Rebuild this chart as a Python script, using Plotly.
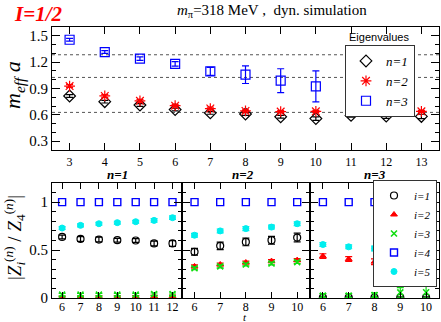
import plotly.graph_objects as go

# ---------------- data: top panel (effective masses) ----------------
t_top = [3, 4, 5, 6, 7, 8, 9, 10, 11, 12, 13]
n1_val = [0.815, 0.750, 0.712, 0.660, 0.622, 0.610, 0.578, 0.558, 0.594, 0.585, 0.582]
n1_err = [0.015, 0.015, 0.015, 0.015, 0.015, 0.015, 0.015, 0.020, 0.020, 0.025, 0.025]
n2_val = [0.928, 0.815, 0.760, 0.705, 0.672, 0.645, 0.637, 0.640, 0.645, 0.640, 0.640]
n2_err = [0.015, 0.015, 0.015, 0.015, 0.015, 0.012, 0.012, 0.012, 0.012, 0.012, 0.012]
t_n3 = [3, 4, 5, 6, 7, 8, 9, 10]
n3_val = [1.455, 1.315, 1.240, 1.180, 1.095, 1.057, 0.989, 0.924]
n3_err = [0.015, 0.015, 0.020, 0.025, 0.045, 0.100, 0.136, 0.176]
thresholds = [1.284, 1.026, 0.628]

# ---------------- data: bottom panels (overlap ratios) ----------------
t_p1 = [6, 7, 8, 9, 10, 11, 12]
p1_i1 = [0.637, 0.616, 0.610, 0.603, 0.600, 0.569, 0.569]
p1_i1_err = [0.020, 0.025, 0.025, 0.020, 0.020, 0.025, 0.030]
p1_i2 = [0.008, 0.010, 0.012, 0.012, 0.015, 0.018, 0.020]
p1_i2_err = [0.010, 0.010, 0.010, 0.010, 0.010, 0.010, 0.010]
p1_i3 = [0.035, 0.035, 0.035, 0.035, 0.035, 0.040, 0.040]
p1_i3_err = [0.012, 0.012, 0.012, 0.012, 0.012, 0.012, 0.012]
p1_i4 = [1, 1, 1, 1, 1, 1, 1]
p1_i5 = [0.730, 0.758, 0.775, 0.786, 0.796, 0.810, 0.838]
p1_i5_err = [0.015, 0.015, 0.015, 0.015, 0.015, 0.018, 0.018]

t_p23 = [6, 7, 8, 9, 10]
p2_i1 = [0.482, 0.544, 0.585, 0.603, 0.631]
p2_i1_err = [0.035, 0.040, 0.040, 0.040, 0.045]
p2_i2 = [0.330, 0.350, 0.370, 0.385, 0.395]
p2_i2_err = [0.015, 0.015, 0.015, 0.015, 0.015]
p2_i3 = [0.310, 0.330, 0.350, 0.360, 0.375]
p2_i3_err = [0.015, 0.015, 0.015, 0.015, 0.015]
p2_i4 = [1, 1, 1, 1, 1]
p2_i5 = [0.655, 0.700, 0.724, 0.740, 0.775]
p2_i5_err = [0.020, 0.020, 0.020, 0.020, 0.020]

p3_i1 = [0.004, 0.004, 0.004, 0.004, 0.004]
p3_i1_err = [0.008, 0.008, 0.008, 0.008, 0.008]
p3_i2 = [0.437, 0.406, 0.379, 0.355, 0.334]
p3_i2_err = [0.025, 0.025, 0.030, 0.057, 0.110]
p3_i3 = [0.025, 0.025, 0.030, 0.058, 0.060]
p3_i3_err = [0.020, 0.020, 0.025, 0.050, 0.060]
p3_i4 = [1, 1, 1, 1, 1]
p3_i5 = [0.558, 0.534, 0.517, 0.489, 0.489]
p3_i5_err = [0.020, 0.020, 0.025, 0.030, 0.030]

top_xticks = [3, 4, 5, 6, 7, 8, 9, 10, 11, 12, 13]
top_yticks = [0.3, 0.6, 0.9, 1.2, 1.5]
top_yticktext = ["0.3", "0.6", "0.9", "1.2", "1.5"]
bot_yticks = [0, 0.5, 1]
bot_yticktext = ["0", "0.5", "1"]

# ---------------- styling ----------------
SERIF = "Liberation Serif"
BLACK, RED, BLUE = "#000000", "#ff0000", "#0000ff"
GREEN, CYAN = "#11dd11", "#00eeee"

W, H = 441, 322
# plot area in window pixels: x 52..439, y 27..298
L, T = 52, 27
R = W - 439
B = H - 298
PW, PH = W - L - R, H - T - B


def px(xw):
    return (xw - L) / PW


def py(yw):
    return (H - B - yw) / PH


fig = go.Figure()


def add(x, y, err, color, symbol, size, name, xa, ya, legend=None, show=False, lw=1.2):
    fig.add_trace(go.Scatter(
        x=x, y=y, mode="markers", name=name,
        xaxis=xa, yaxis=ya, showlegend=show, legend=legend,
        marker=dict(symbol=symbol, size=size, color=color,
                    line=dict(color=color, width=lw)),
        error_y=None if err is None else dict(type="data", array=err, color=color,
                                              thickness=1.2, width=3.5),
    ))


# top panel
add(t_top, n1_val, n1_err, BLACK, "diamond-open", 9, "<i>n=1</i>", "x", "y", "legend", True)
add(t_top, n2_val, n2_err, RED, "asterisk-open", 9, "<i>n=2</i>", "x", "y", "legend", True)
add(t_n3, n3_val, n3_err, BLUE, "square-open", 9, "<i>n=3</i>", "x", "y", "legend", True)

# bottom panels
panels = [
    ("x2", "y2", t_p1, [(p1_i1, p1_i1_err), (p1_i2, p1_i2_err), (p1_i3, p1_i3_err), (p1_i4, None), (p1_i5, p1_i5_err)]),
    ("x3", "y3", t_p23, [(p2_i1, p2_i1_err), (p2_i2, p2_i2_err), (p2_i3, p2_i3_err), (p2_i4, None), (p2_i5, p2_i5_err)]),
    ("x4", "y4", t_p23, [(p3_i1, p3_i1_err), (p3_i2, p3_i2_err), (p3_i3, p3_i3_err), (p3_i4, None), (p3_i5, p3_i5_err)]),
]
styles = [
    (BLACK, "circle-open", 7, "<i>i=1</i>", 1.2),
    (RED, "triangle-up", 6, "<i>i=2</i>", 1.0),
    (GREEN, "x-thin", 6, "<i>i=3</i>", 1.6),
    (BLUE, "square-open", 7, "<i>i=4</i>", 1.4),
    (CYAN, "circle", 6, "<i>i=5</i>", 1.0),
]
for k, (xa, ya, tt, series) in enumerate(panels):
    for (vals, err), (col, sym, sz, nm, lw) in zip(series, styles):
        add(tt, vals, err, col, sym, sz, nm, xa, ya, "legend2", k == 2, lw)

# dotted threshold lines
for th in thresholds:
    fig.add_shape(type="line", xref="x domain", yref="y", x0=0, x1=1, y0=th, y1=th,
                  line=dict(color="#555555", width=1, dash="dot"), layer="below")

axis_base = dict(showline=True, linecolor="black", linewidth=1.2, mirror="ticks",
                 ticks="inside", tickcolor="black", showgrid=False, zeroline=False)
minor_y = dict(dtick=0.1, tick0=0, ticks="inside", ticklen=4, tickcolor="black")
yfont = dict(family=SERIF, size=15, color="black")
xfont_top = dict(family=SERIF, size=12, color="black")
xfont_bot = dict(family=SERIF, size=12, color="black")

x_dom = [(0, px(181.7)), (px(181.7), px(310)), (px(310), 1)]
top_dom = [py(150), 1]
bot_dom = [0, py(183)]

fig.update_layout(
    width=W, height=H, margin=dict(l=L, r=R, t=T, b=B, autoexpand=False),
    plot_bgcolor="white", paper_bgcolor="white",
    xaxis=dict(domain=[0, 1], anchor="y", range=[2.5, 13.5], tickvals=top_xticks,
               ticklen=7, tickfont=xfont_top, **axis_base),
    yaxis=dict(domain=top_dom, anchor="x", range=[0.2, 1.6], tickvals=top_yticks,
               ticktext=top_yticktext, ticklen=8, minor=minor_y, tickfont=yfont, **axis_base),
    xaxis2=dict(domain=list(x_dom[0]), anchor="y2", range=[5.45, 12.5], dtick=1, ticklen=6,
                ticklabelstandoff=-3, tickfont=xfont_bot, **axis_base),
    yaxis2=dict(domain=bot_dom, anchor="x2", range=[0, 1.2], tickvals=bot_yticks,
                ticktext=bot_yticktext, ticklen=8, minor=minor_y, tickfont=yfont, **axis_base),
    xaxis3=dict(domain=list(x_dom[1]), anchor="y3", range=[5.5, 10.5], dtick=1, ticklen=6,
                ticklabelstandoff=-3, tickfont=xfont_bot, **axis_base),
    yaxis3=dict(domain=bot_dom, anchor="x3", range=[0, 1.2], tickvals=bot_yticks,
                showticklabels=False, ticklen=8, minor=minor_y, **axis_base),
    xaxis4=dict(domain=list(x_dom[2]), anchor="y4", range=[5.5, 10.5], dtick=1, ticklen=6,
                ticklabelstandoff=-3, tickfont=xfont_bot, **axis_base),
    yaxis4=dict(domain=bot_dom, anchor="x4", range=[0, 1.2], tickvals=bot_yticks,
                showticklabels=False, ticklen=8, minor=minor_y, **axis_base),
    legend=dict(x=px(380), y=py(45), xanchor="center", yanchor="top",
                bgcolor="white", bordercolor="#333333", borderwidth=1,
                font=dict(family=SERIF, size=13, color="black"),
                itemwidth=30, tracegroupgap=0),
    legend2=dict(x=px(437), y=py(180), xanchor="right", yanchor="top",
                 bgcolor="white", bordercolor="#333333", borderwidth=1,
                 font=dict(family=SERIF, size=11, color="black"),
                 itemwidth=30, tracegroupgap=0),
    showlegend=True,
)

ann = [
    dict(text="<b><i>I=1/2</i></b>", x=px(12), y=py(14), xanchor="left", yanchor="middle",
         font=dict(family=SERIF, size=21, color=RED)),
    dict(text="<i>m</i><sub>π</sub>=318 MeV ,  dyn. simulation", x=px(272), y=py(11),
         xanchor="center", yanchor="middle", font=dict(family=SERIF, size=15, color="black")),
    dict(text="Eigenvalues", x=px(379), y=py(37), xanchor="center", yanchor="middle",
         font=dict(family="Liberation Sans", size=11, color="black")),
    dict(text="<i>m</i><sub><i>eff</i></sub> <i>a</i>", x=px(14), y=py(85), textangle=-90,
         xanchor="center", yanchor="middle", font=dict(family=SERIF, size=22, color="black")),
    dict(text="|<i>Z</i><sub><i>i</i></sub><sup>(<i>n</i>)</sup> / <i>Z</i><sub>4</sub><sup>(<i>n</i>)</sup>|",
         x=px(14), y=py(238), textangle=-90, xanchor="center", yanchor="middle",
         font=dict(family=SERIF, size=19, color="black")),
    dict(text="<b><i>n=1</i></b>", x=px(117), y=py(174), xanchor="center", yanchor="middle",
         font=dict(family=SERIF, size=13, color="black")),
    dict(text="<b><i>n=2</i></b>", x=px(243), y=py(174), xanchor="center", yanchor="middle",
         font=dict(family=SERIF, size=13, color="black")),
    dict(text="<b><i>n=3</i></b>", x=px(375), y=py(174), xanchor="center", yanchor="middle",
         font=dict(family=SERIF, size=13, color="black")),
    dict(text="<i>t</i>", x=px(245), y=py(317), xanchor="center", yanchor="middle",
         font=dict(family=SERIF, size=11, color="black")),
]
for a in ann:
    fig.add_annotation(xref="paper", yref="paper", showarrow=False, **a)

# the page body has a default 8px margin; remove it so the figure fills the window
fig.write_html("out.html", config={"displayModeBar": False},
               post_script="document.body.style.margin='0px';")
